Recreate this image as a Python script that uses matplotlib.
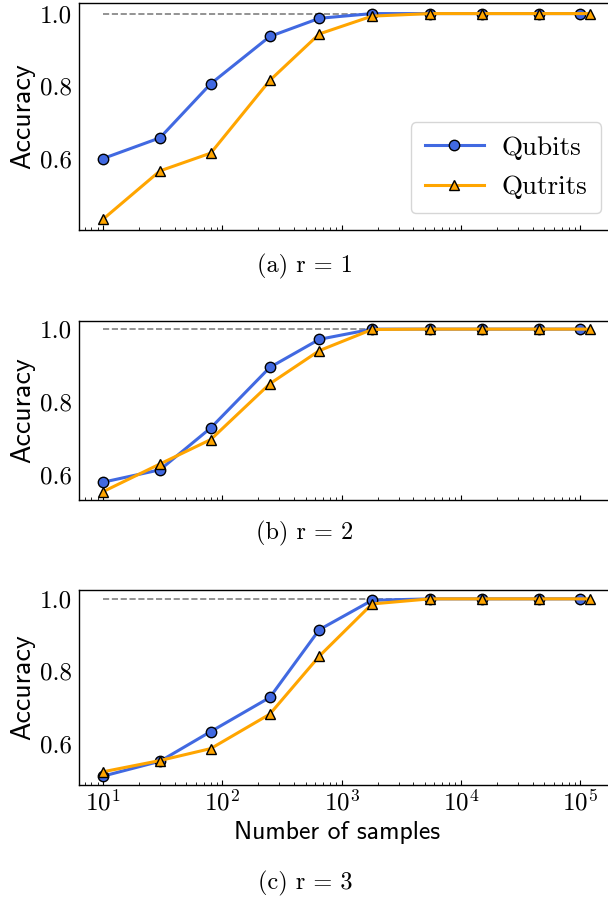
import matplotlib
matplotlib.use("Agg")
import matplotlib.pyplot as plt
from matplotlib.ticker import LogLocator, NullFormatter

# ---- data ----
samples_qubits = [10, 30, 80, 250, 650, 1800, 5500, 15000, 45000, 100000]
samples_qutrits = [10, 30, 80, 250, 650, 1800, 5500, 15000, 45000, 120000]

acc_qubits_r1 = [0.601, 0.658, 0.807, 0.937, 0.987, 1.0, 1.0, 1.0, 1.0, 1.0]
acc_qutrits_r1 = [0.434, 0.567, 0.616, 0.816, 0.944, 0.993, 1.0, 1.0, 1.0, 1.0]
acc_qubits_r2 = [0.580, 0.614, 0.729, 0.895, 0.972, 1.0, 1.0, 1.0, 1.0, 1.0]
acc_qutrits_r2 = [0.554, 0.630, 0.697, 0.850, 0.941, 0.999, 1.0, 1.0, 1.0, 1.0]
acc_qubits_r3 = [0.511, 0.552, 0.634, 0.728, 0.915, 0.996, 1.0, 1.0, 1.0, 1.0]
acc_qutrits_r3 = [0.523, 0.554, 0.587, 0.682, 0.842, 0.986, 1.0, 1.0, 1.0, 1.0]

captions = ["(a) r = 1", "(b) r = 2", "(c) r = 3"]
yticks = [0.6, 0.8, 1.0]
ytick_labels = ["0.6", "0.8", "1.0"]

plt.rcParams["mathtext.fontset"] = "cm"
plt.rcParams["font.family"] = ["cmr10", "DejaVu Sans"]
plt.rcParams["axes.formatter.use_mathtext"] = True

W, H = 608, 899
fig = plt.figure(figsize=(W / 100, H / 100), dpi=100)

def px_axes(left, top, right, bottom):
    return fig.add_axes([left / W, (H - bottom) / H, (right - left) / W, (bottom - top) / H])

AX_L, AX_R = 78.7, 614
axes = [
    px_axes(AX_L, 3.3, AX_R, 229.5),
    px_axes(AX_L, 321, AX_R, 499.8),
    px_axes(AX_L, 590, AX_R, 785),
]
caption_y = [266, 533, 883]

data = [(acc_qubits_r1, acc_qutrits_r1), (acc_qubits_r2, acc_qutrits_r2), (acc_qubits_r3, acc_qutrits_r3)]

for i, (ax, (qb, qt)) in enumerate(zip(axes, data)):
    ax.hlines(1.0, samples_qubits[0], samples_qubits[-1], colors="gray",
              linestyles="--", linewidth=1.2, zorder=1)
    ax.plot(samples_qubits, qb, color="royalblue", lw=2.2, marker="o", ms=7.5,
            mfc="royalblue", mec="black", mew=1.0, label="Qubits", zorder=3)
    ax.plot(samples_qutrits, qt, color="orange", lw=2.2, marker="^", ms=7.5,
            mfc="orange", mec="black", mew=1.0, label="Qutrits", zorder=4)
    ax.set_xscale("log")
    ax.xaxis.set_major_locator(LogLocator(base=10, numticks=10))
    ax.xaxis.set_minor_locator(LogLocator(base=10, subs=range(2, 10), numticks=20))
    ax.xaxis.set_minor_formatter(NullFormatter())
    ax.set_yticks(yticks)
    ax.set_yticklabels(ytick_labels)
    ax.tick_params(axis="y", length=0, pad=5, labelsize=18)
    ax.tick_params(axis="x", which="major", direction="in", length=3.5, width=0.8, labelsize=18)
    ax.tick_params(axis="x", which="minor", direction="in", length=2, width=0.6)
    ax.set_ylabel("Accuracy", family="cmss10", fontsize=20, labelpad=3)
    if i < 2:
        ax.tick_params(axis="x", labelbottom=False)
    else:
        ax.set_xlabel("Number of samples", family="cmss10", fontsize=18.5, labelpad=2)
        ax.xaxis.set_label_coords((337 - AX_L) / (AX_R - AX_L), -0.185)
    for s in ax.spines.values():
        s.set_linewidth(1.0)
    fig.text(305 / W, (H - caption_y[i]) / H, captions[i], ha="center", va="center",
             fontsize=17.5, family="cmr10")

leg = axes[0].legend(loc="lower right", bbox_to_anchor=(0.9757, 0.073), borderaxespad=0,
                     fontsize=19.5, handlelength=2.2, handletextpad=0.65, labelspacing=0.58,
                     borderpad=0.5, fancybox=True, edgecolor="#cccccc")

fig.savefig("out.png", dpi=100)
